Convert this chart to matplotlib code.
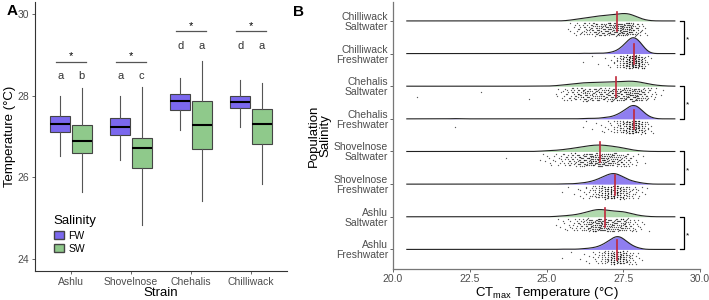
import numpy as np
import matplotlib
matplotlib.use("Agg")
import matplotlib.pyplot as plt
from matplotlib.patches import Patch

plt.rcParams["font.family"] = ["Liberation Sans", "DejaVu Sans"]

# ---------------- Panel A data (box statistics) ----------------
strains = ["Ashlu", "Shovelnose", "Chehalis", "Chilliwack"]
fw_whislo = [26.52, 26.42, 27.17, 27.23]
fw_q1 = [27.11, 27.03, 27.66, 27.69]
fw_med = [27.31, 27.24, 27.86, 27.84]
fw_q3 = [27.50, 27.46, 28.03, 27.99]
fw_whishi = [28.00, 28.00, 28.43, 28.38]
sw_whislo = [25.65, 24.84, 25.42, 25.83]
sw_q1 = [26.60, 26.23, 26.69, 26.82]
sw_med = [26.90, 26.73, 27.27, 27.31]
sw_q3 = [27.29, 26.96, 27.88, 27.68]
sw_whishi = [28.19, 28.22, 28.85, 28.30]
letters_fw = ["a", "a", "d", "d"]
letters_sw = ["b", "c", "a", "a"]

# ---------------- Panel B data (counts of fish per 0.1 °C, 24.5 .. 28.9) ----------------
temps = np.round(np.arange(24.5, 28.95, 0.1), 1)
ashlu_fw = [0, 0, 0, 0, 0,
            0, 0, 0, 0, 0, 1, 0, 0, 1, 0,
            0, 1, 1, 1, 2, 2, 3, 4, 6, 8,
            11, 14, 17, 19, 18, 15, 11, 8, 5, 3,
            2, 1, 0, 0, 0, 0, 0, 0, 0, 0]
ashlu_sw = [0, 0, 0, 0, 0,
            0, 0, 0, 1, 1, 2, 2, 3, 3, 4,
            5, 6, 8, 10, 12, 14, 16, 17, 17, 15,
            13, 12, 12, 12, 12, 12, 10, 8, 6, 4,
            3, 2, 1, 1, 0, 0, 0, 0, 0, 0]
shovelnose_fw = [0, 0, 0, 0, 0,
                 0, 0, 0, 0, 0, 1, 0, 1, 0, 1,
                 1, 2, 2, 3, 4, 5, 7, 9, 11, 14,
                 16, 18, 19, 17, 15, 12, 9, 7, 5, 4,
                 3, 2, 1, 1, 0, 0, 0, 0, 0, 0]
shovelnose_sw = [0, 0, 0, 1, 1,
                 2, 2, 2, 3, 3, 4, 5, 6, 7, 8,
                 9, 10, 12, 13, 14, 15, 16, 16, 16, 15,
                 14, 13, 12, 11, 10, 9, 7, 5, 3, 2,
                 2, 1, 1, 0, 0, 0, 0, 0, 0, 0]
chehalis_fw = [0, 0, 0, 0, 0,
               0, 0, 0, 0, 0, 0, 0, 0, 0, 0,
               0, 0, 1, 1, 0, 1, 1, 0, 2, 2,
               2, 3, 4, 6, 8, 11, 14, 18, 20, 20,
               17, 12, 8, 4, 2, 1, 0, 0, 0, 0]
chehalis_sw = [0, 0, 0, 0, 0,
               0, 0, 0, 1, 2, 3, 4, 5, 6, 7,
               8, 9, 10, 11, 11, 10, 10, 10, 10, 11,
               11, 12, 12, 12, 12, 13, 14, 15, 16, 16,
               14, 11, 8, 6, 4, 3, 2, 1, 1, 0]
chilliwack_fw = [0, 0, 0, 0, 0,
                 0, 0, 0, 0, 0, 0, 0, 0, 0, 0,
                 0, 0, 1, 0, 0, 1, 0, 1, 0, 1,
                 1, 2, 3, 5, 8, 12, 17, 22, 25, 24,
                 20, 14, 8, 3, 1, 0, 0, 0, 0, 0]
chilliwack_sw = [0, 0, 0, 0, 0,
                 0, 0, 0, 0, 0, 0, 0, 1, 2, 3,
                 4, 5, 6, 7, 8, 9, 10, 11, 12, 12,
                 13, 13, 14, 15, 16, 17, 18, 17, 14, 10,
                 7, 4, 2, 1, 0, 0, 0, 0, 0, 0]
# isolated low values
chehalis_fw_low = [22.0]
chehalis_sw_low = [20.8, 22.9, 24.4]
shovelnose_sw_low = [23.7]

row_labels = ["Ashlu\nFreshwater", "Ashlu\nSaltwater",
              "Shovelnose\nFreshwater", "Shovelnose\nSaltwater",
              "Chehalis\nFreshwater", "Chehalis\nSaltwater",
              "Chilliwack\nFreshwater", "Chilliwack\nSaltwater"]

FW_COL = "#7b68ee"
SW_COL = "#8fc98b"
TXT = "#4d4d4d"

fig = plt.figure(figsize=(7.09, 3.0), dpi=100)

# ======================= Panel A =======================
axA = fig.add_axes([35 / 709, 29 / 300, 252 / 709, 269 / 300])
x = np.arange(1, 5)
off, w = 0.18, 0.33
fw_stats = [dict(med=fw_med[i], q1=fw_q1[i], q3=fw_q3[i], whislo=fw_whislo[i],
                 whishi=fw_whishi[i], fliers=[]) for i in range(4)]
sw_stats = [dict(med=sw_med[i], q1=sw_q1[i], q3=sw_q3[i], whislo=sw_whislo[i],
                 whishi=sw_whishi[i], fliers=[]) for i in range(4)]
for stats, pos, col in [(fw_stats, x - off, FW_COL), (sw_stats, x + off, SW_COL)]:
    axA.bxp(stats, positions=pos, widths=w, patch_artist=True, showcaps=False,
            showfliers=False,
            boxprops=dict(facecolor=col, edgecolor="#444444", linewidth=0.8),
            whiskerprops=dict(color="#555555", linewidth=0.8),
            medianprops=dict(color="black", linewidth=1.5))

# letters and significance bars
letter_y = [28.47, 28.47, 29.22, 29.22]
bar_y = [28.83, 28.83, 29.58, 29.58]
for i in range(4):
    axA.text(x[i] - off, letter_y[i], letters_fw[i], ha="center", va="center",
             fontsize=8, color="#333333")
    axA.text(x[i] + off, letter_y[i], letters_sw[i], ha="center", va="center",
             fontsize=8, color="#333333")
    axA.plot([x[i] - 0.245, x[i] + 0.245], [bar_y[i], bar_y[i]], color="#555555", lw=0.9)
    axA.text(x[i], bar_y[i] + 0.13, "*", ha="center", va="center", fontsize=8)

axA.set_xlim(0.4, 4.6)
axA.set_ylim(23.71, 30.29)
axA.set_xticks(x)
axA.set_xticklabels(strains)
axA.set_yticks([24, 26, 28, 30])
axA.set_xlabel("Strain", fontsize=9.5, labelpad=0)
axA.set_ylabel("Temperature (°C)", fontsize=9.5, labelpad=1)
for s in ["top", "right"]:
    axA.spines[s].set_visible(False)
for s in ["left", "bottom"]:
    axA.spines[s].set_color("#333333")
    axA.spines[s].set_linewidth(0.8)
axA.tick_params(labelsize=7.5, colors=TXT, length=2.5, width=0.6, pad=1.5)
handles = [Patch(facecolor=FW_COL, edgecolor="#444444", label="FW"),
           Patch(facecolor=SW_COL, edgecolor="#444444", label="SW")]
leg = axA.legend(handles=handles, title="Salinity", loc="upper left",
                 bbox_to_anchor=(0.05, 0.23), frameon=False, fontsize=7.5,
                 title_fontsize=9.5, handlelength=1.0, handleheight=0.75,
                 handletextpad=0.4, labelspacing=0.3, borderpad=0.1,
                 alignment="left")
fig.text(12 / 709, 1 - 11 / 300, "A", fontsize=11, fontweight="bold",
         ha="center", va="center")

# ======================= Panel B =======================
axB = fig.add_axes([393 / 709, 31 / 300, 307 / 709, 267 / 300])
groups = [(ashlu_fw, [], FW_COL, 0.85),
          (ashlu_sw, [], SW_COL, 0.7),
          (shovelnose_fw, [], FW_COL, 0.85),
          (shovelnose_sw, shovelnose_sw_low, SW_COL, 0.7),
          (chehalis_fw, chehalis_fw_low, FW_COL, 0.85),
          (chehalis_sw, chehalis_sw_low, SW_COL, 0.7),
          (chilliwack_fw, [], FW_COL, 0.85),
          (chilliwack_sw, [], SW_COL, 0.7)]
red_med = [fw_med[0], sw_med[0], fw_med[1], sw_med[1],
           fw_med[2], sw_med[2], fw_med[3], sw_med[3]]
grid = np.linspace(20.45, 29.18, 600)
scale = 0.35

for k in range(7, -1, -1):
    counts, low, col, alpha = groups[k]
    base = k + 1
    vals = np.concatenate([np.repeat(temps, counts), np.array(low, dtype=float)])
    n = len(vals)
    sd = vals.std(ddof=1)
    iqr = np.subtract(*np.percentile(vals, [75, 25]))
    bw = 0.9 * min(sd, iqr / 1.34) * n ** -0.2
    dens = np.exp(-0.5 * ((grid[:, None] - vals[None, :]) / bw) ** 2).sum(1)
    dens /= n * bw * np.sqrt(2 * np.pi)
    top = base + dens * scale
    axB.fill_between(grid, base, top, color=col, alpha=alpha, lw=0, zorder=2 + 8 - k)
    axB.plot(grid, top, color="#222222", lw=0.8, zorder=2.5 + 8 - k)
    # jittered points below the ridge
    idx = np.arange(n)
    u = (0.5 + idx * 0.7548776662) % 1
    v = (0.5 + idx * 0.5698402910) % 1
    hj = 0.02 if col == FW_COL else 0.045
    axB.scatter(vals + (u - 0.5) * 2 * hj, base - 0.05 - v * 0.4, s=0.9,
                color="black", alpha=0.65, lw=0, zorder=1)
    axB.plot([red_med[k], red_med[k]], [base - 0.32, base + 0.28],
             color="#c0283a", lw=1.2, zorder=20)

# brackets
for b in [1, 3, 5, 7]:
    axB.plot([29.35, 29.48, 29.48, 29.35], [b, b, b + 1, b + 1], color="black",
             lw=0.9, clip_on=False)
    axB.text(29.6, b + 0.42, "*", fontsize=6, ha="center", va="center")

axB.set_xlim(20, 30)
axB.set_ylim(0.4, 8.58)
axB.set_xticks([20, 22.5, 25, 27.5, 30])
axB.set_xticklabels(["20.0", "22.5", "25.0", "27.5", "30.0"])
axB.set_yticks(np.arange(1, 9))
axB.set_yticklabels(row_labels, linespacing=1.0)
axB.set_xlabel(r"CT$_{\mathregular{max}}$ Temperature (°C)", fontsize=9.5, labelpad=0.5)
axB.set_ylabel("Population\nSalinity", fontsize=9.5, labelpad=2, linespacing=0.95)
for s in ["top", "right"]:
    axB.spines[s].set_visible(False)
for s in ["left", "bottom"]:
    axB.spines[s].set_color("#777777")
    axB.spines[s].set_linewidth(0.9)
axB.tick_params(labelsize=7.5, colors=TXT, length=2, width=0.6, pad=1.5)
fig.text(298 / 709, 1 - 12 / 300, "B", fontsize=11, fontweight="bold",
         ha="center", va="center")

fig.savefig("out.png", dpi=100)
